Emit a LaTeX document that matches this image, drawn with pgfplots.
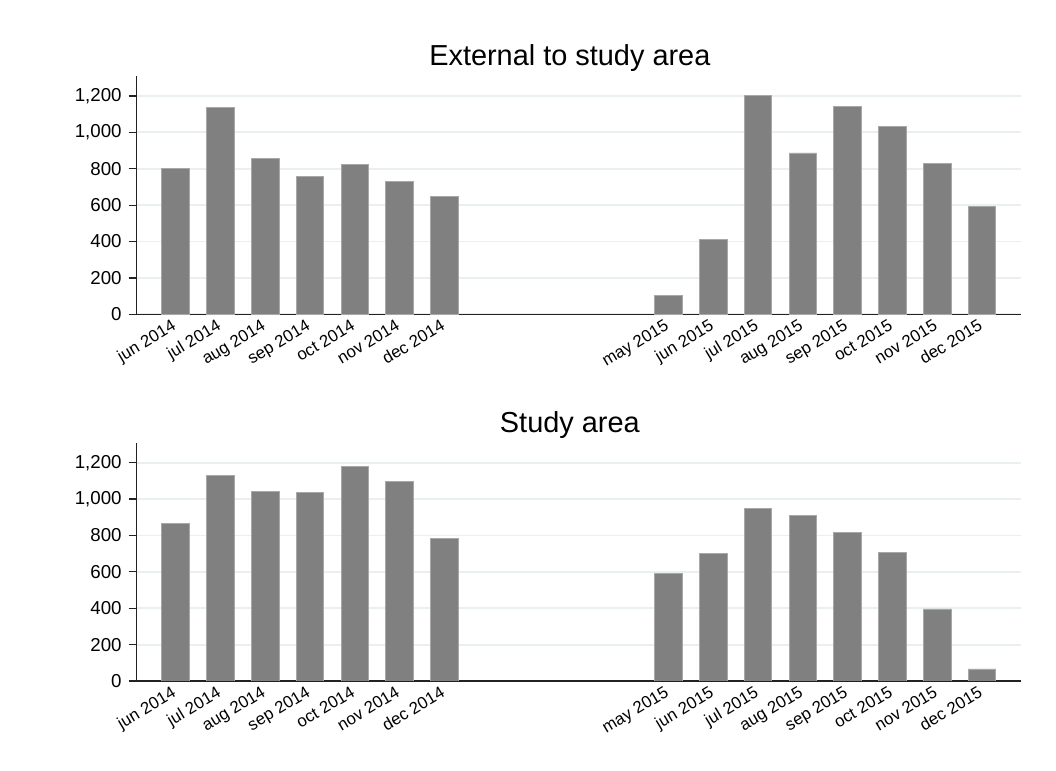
\documentclass[border=0pt]{standalone}
\usepackage{fontspec}
\setmainfont{Liberation Sans}
\usepackage{pgfplots}
\usepackage{pgfplotstable}
\pgfplotsset{compat=1.18}
\definecolor{barg}{HTML}{808080}
\definecolor{bare}{HTML}{A8A8A8}
\definecolor{gridc}{HTML}{EAF0F2}
\definecolor{axc}{HTML}{222222}

\pgfplotstableread{
x ext
0 802
1 1136
2 859
3 758
4 824
5 731
6 649
11 103
12 410
13 1204
14 887
15 1141
16 1031
17 828
18 592
}\extdata

\pgfplotstableread{
x stu
0 868
1 1132
2 1040
3 1037
4 1178
5 1097
6 783
11 589
12 703
13 947
14 910
15 815
16 706
17 396
18 66
}\studata

\pgfplotsset{panel/.style={
  scale only axis, width=442.15pt, height=119.15pt,
  xmin=-0.87, xmax=18.87, ymin=0, ymax=1310,
  axis lines*=left,
  axis line style={axc, line width=0.7pt},
  ytick={0,200,...,1200},
  ymajorgrids, grid style={gridc, line width=0.9pt},
  tick align=outside, major tick length=4pt,
  ytick style={axc, line width=0.6pt},
  xtick={0,1,2,3,4,5,6,11,12,13,14,15,16,17,18},
  xticklabels={jun 2014,jul 2014,aug 2014,sep 2014,oct 2014,nov 2014,dec 2014,may 2015,jun 2015,jul 2015,aug 2015,sep 2015,oct 2015,nov 2015,dec 2015},
  xtick style={draw=none},
  x tick label style={rotate=31, anchor=north east, font=\fontsize{8.4}{10}\selectfont, inner sep=1pt, yshift=4pt, xshift=0pt},
  y tick label style={font=\fontsize{9.35}{11}\selectfont},
  /pgf/number format/assume math mode=true,
  /pgf/number format/1000 sep={,},
  title style={at={(0.5,1)}, anchor=base, yshift=-0.8pt, xshift=-4.5pt, font=\fontsize{14.45}{17}\selectfont},
}}

\begin{document}
\begin{tikzpicture}
\path[use as bounding box] (0,0) rectangle (528pt,385.5pt);
\begin{axis}[panel, at={(68.35pt,228.35pt)}, anchor=south west, title={External to study area}]
\addplot[ybar, bar width=0.616, fill=barg, draw=bare, line width=0.4pt] table[x=x, y=ext]{\extdata};
\end{axis}
\begin{axis}[panel, at={(68.35pt,45pt)}, anchor=south west, title={Study area}]
\addplot[ybar, bar width=0.616, fill=barg, draw=bare, line width=0.4pt] table[x=x, y=stu]{\studata};
\end{axis}
\end{tikzpicture}
\end{document}
